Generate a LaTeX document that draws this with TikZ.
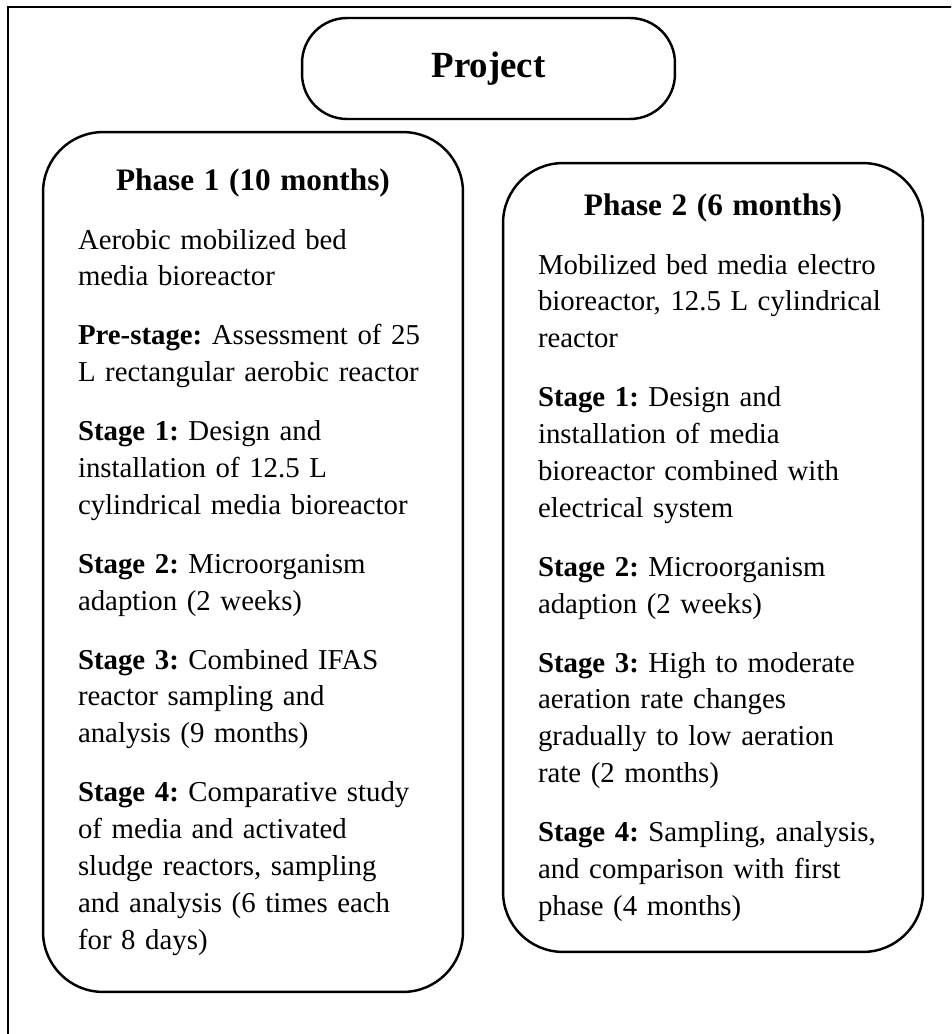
\documentclass[tikz,border=0pt]{standalone}
\usepackage{fontspec}
\setmainfont{Liberation Serif}
\usepackage{tikz}
\usetikzlibrary{positioning}

\newcommand{\phasetitle}[1]{{\centering\fontsize{17.8}{21}\selectfont\bfseries #1\par}}

\begin{document}
\frenchspacing
\begin{tikzpicture}[
    x=0.02cm, y=-0.02cm,
    projbox/.style={
        draw, line width=1.4pt, rounded corners=0.9cm,
        minimum width=7.46cm, minimum height=2.02cm,
        font=\fontsize{21}{25}\selectfont\bfseries
    },
    phasebox/.style={
        draw, line width=1.4pt, rounded corners=1.2cm,
        minimum width=8.4cm, text width=7cm, inner sep=0pt,
        font=\fontsize{16.4}{21}\selectfont,
        execute at begin node={\frenchspacing\raggedright\setlength{\parskip}{12.5pt}}
    }
]
    \clip (0,0) rectangle (951,1034);
    \draw[line width=1.7pt] (8,7) rectangle (1000,1100);

    \node (proj) [projbox] at (488.5,68.5) {Project};

    \node (ph1) [phasebox, minimum height=17.2cm] at (253,562) {%
        \phasetitle{Phase 1 (10 months)}
        Aerobic mobilized bed\\ media bioreactor\par
        \textbf{Pre-stage:} Assessment of 25\\ L rectangular aerobic reactor\par
        \textbf{Stage 1:} Design and\\ installation of 12.5 L\\ cylindrical media bioreactor\par
        \textbf{Stage 2:} Microorganism\\ adaption (2 weeks)\par
        \textbf{Stage 3:} Combined IFAS\\ reactor sampling and\\ analysis (9 months)\par
        \textbf{Stage 4:} Comparative study\\ of media and activated\\ sludge reactors, sampling\\ and analysis (6 times each\\ for 8 days)\par};

    \node (ph2) [phasebox, minimum height=15.78cm] at (713,557.5) {%
        \phasetitle{Phase 2 (6 months)}
        Mobilized bed media electro\\ bioreactor, 12.5 L cylindrical\\ reactor\par
        \textbf{Stage 1:} Design and\\ installation of media\\ bioreactor combined with\\ electrical system\par
        \textbf{Stage 2:} Microorganism\\ adaption (2 weeks)\par
        \textbf{Stage 3:} High to moderate\\ aeration rate changes\\ gradually to low aeration\\ rate (2 months)\par
        \textbf{Stage 4:} Sampling, analysis,\\ and comparison with first\\ phase (4 months)\par};
\end{tikzpicture}
\end{document}
